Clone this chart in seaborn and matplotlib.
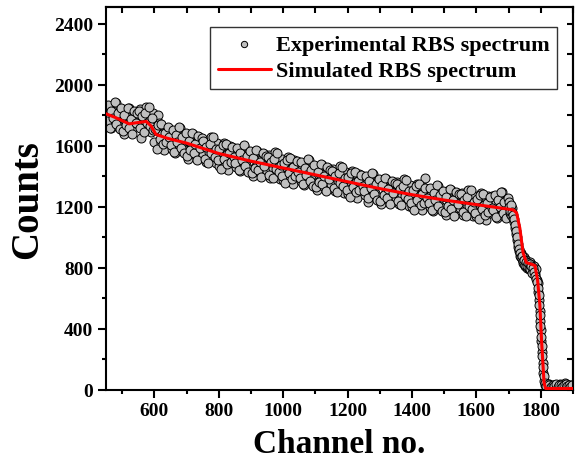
import numpy as np
import pandas as pd
import matplotlib
matplotlib.use("Agg")
import matplotlib.pyplot as plt
import seaborn as sns
from matplotlib.ticker import MultipleLocator

# ---------------- data ----------------
# Experimental RBS spectrum, channels 450..1695 in steps of 5
exp_a_start = 450
exp_step = 5
exp_a_counts = [
    1863, 1748, 1828, 1715, 1840, 1775, 1880, 1747, 1797, 1722,
    1810, 1680, 1835, 1745, 1845, 1710, 1785, 1725, 1825, 1755,
    1740, 1840, 1650, 1805, 1760, 1855, 1720, 1790, 1690, 1815,
    1625, 1705, 1800, 1750, 1620, 1675, 1575, 1720, 1640, 1700,
    1695, 1580, 1660, 1555, 1680, 1615, 1720, 1595, 1645, 1570,
    1645, 1515, 1670, 1580, 1680, 1545, 1620, 1560, 1660, 1590,
    1540, 1640, 1495, 1605, 1560, 1660, 1520, 1590, 1485, 1620,
    1470, 1570, 1505, 1620, 1490, 1545, 1445, 1600, 1520, 1585,
    1575, 1460, 1540, 1435, 1560, 1495, 1600, 1475, 1525, 1450,
    1530, 1400, 1555, 1465, 1565, 1430, 1505, 1445, 1545, 1475,
    1437, 1537, 1392, 1502, 1457, 1557, 1417, 1487, 1382, 1517,
    1375, 1475, 1410, 1525, 1395, 1450, 1350, 1505, 1425, 1490,
    1482, 1367, 1447, 1342, 1467, 1402, 1507, 1382, 1432, 1357,
    1440, 1310, 1465, 1375, 1475, 1340, 1415, 1355, 1455, 1385,
    1348, 1448, 1303, 1413, 1368, 1468, 1328, 1398, 1293, 1428,
    1285, 1385, 1320, 1435, 1305, 1360, 1260, 1415, 1335, 1400,
    1392, 1277, 1357, 1232, 1377, 1312, 1417, 1292, 1342, 1267,
    1351, 1221, 1376, 1286, 1386, 1251, 1326, 1266, 1366, 1296,
    1261, 1361, 1216, 1326, 1281, 1381, 1241, 1311, 1206, 1341,
    1202, 1302, 1237, 1352, 1222, 1277, 1177, 1332, 1390, 1317,
    1315, 1200, 1280, 1175, 1300, 1235, 1340, 1215, 1265, 1190,
    1278, 1148, 1303, 1213, 1313, 1178, 1253, 1193, 1293, 1223,
    1193, 1293, 1148, 1258, 1213, 1313, 1173, 1243, 1138, 1273,
    1140, 1240, 1175, 1290, 1160, 1215, 1115, 1270, 1190, 1255,
    1270, 1155, 1235, 1130, 1255, 1190, 1295, 1170, 1220, 1145,
]
# Experimental RBS spectrum, channels 452..1697 in steps of 5
exp_b_start = 452
exp_b_counts = [
    1765, 1865, 1720, 1830, 1785, 1885, 1745, 1815, 1710, 1845,
    1700, 1800, 1735, 1850, 1720, 1775, 1675, 1830, 1750, 1815,
    1830, 1715, 1795, 1690, 1815, 1750, 1855, 1730, 1780, 1705,
    1710, 1580, 1735, 1645, 1745, 1610, 1685, 1625, 1725, 1655,
    1605, 1705, 1560, 1670, 1625, 1725, 1585, 1655, 1550, 1685,
    1535, 1635, 1570, 1685, 1555, 1610, 1510, 1665, 1585, 1650,
    1630, 1515, 1595, 1490, 1615, 1550, 1655, 1530, 1580, 1505,
    1580, 1450, 1605, 1515, 1615, 1480, 1555, 1495, 1595, 1525,
    1485, 1585, 1440, 1550, 1505, 1605, 1465, 1535, 1430, 1565,
    1420, 1520, 1455, 1570, 1440, 1495, 1395, 1550, 1470, 1535,
    1527, 1412, 1492, 1387, 1512, 1447, 1552, 1427, 1477, 1402,
    1485, 1355, 1510, 1420, 1520, 1385, 1460, 1400, 1500, 1430,
    1392, 1492, 1347, 1457, 1412, 1512, 1372, 1442, 1337, 1472,
    1330, 1430, 1365, 1480, 1350, 1405, 1305, 1460, 1380, 1445,
    1438, 1323, 1403, 1298, 1423, 1358, 1463, 1338, 1388, 1313,
    1395, 1265, 1420, 1330, 1430, 1295, 1370, 1310, 1410, 1340,
    1302, 1402, 1257, 1367, 1322, 1422, 1282, 1352, 1247, 1382,
    1241, 1341, 1276, 1391, 1261, 1316, 1216, 1371, 1291, 1356,
    1351, 1236, 1316, 1211, 1336, 1271, 1376, 1251, 1301, 1226,
    1312, 1182, 1337, 1247, 1347, 1212, 1287, 1227, 1327, 1257,
    1225, 1325, 1180, 1290, 1245, 1345, 1205, 1275, 1170, 1305,
    1168, 1268, 1203, 1318, 1188, 1243, 1143, 1298, 1218, 1283,
    1283, 1168, 1248, 1143, 1268, 1203, 1308, 1183, 1233, 1158,
    1250, 1120, 1275, 1185, 1285, 1150, 1225, 1165, 1265, 1195,
    1180, 1280, 1135, 1245, 1200, 1300, 1160, 1230, 1125, 1260,
]
# Experimental points on the edges and the tail
exp_edge_channels = [
    1700, 1703, 1706, 1709, 1712, 1715, 1718, 1721, 1724, 1727,
    1730, 1733, 1736, 1739, 1742, 1745, 1748, 1751, 1754, 1757,
    1760, 1763, 1766, 1769, 1772, 1775, 1778, 1781, 1784, 1787,
    1790, 1792, 1794, 1796, 1798, 1800, 1802, 1804, 1806, 1808,
    1810, 1813, 1815, 1820, 1825, 1830, 1835, 1840, 1845, 1850,
    1855, 1860, 1865, 1870, 1875, 1880, 1885, 1890, 1895, 1900,
    1702, 1705, 1708, 1711, 1714, 1717, 1720, 1723, 1726, 1729,
    1732, 1735, 1738, 1741, 1744, 1747, 1750, 1753, 1756, 1759,
    1762, 1765, 1768, 1771, 1774, 1777, 1780, 1783, 1786, 1789,
    1791, 1793, 1795, 1797, 1799, 1801, 1803, 1805, 1807, 1809,
    1812, 1817, 1822, 1827, 1832, 1837, 1842, 1847, 1852, 1857,
    1862, 1867, 1872, 1877, 1882, 1887, 1892, 1897,
]
exp_edge_counts = [
    1230, 1160, 1200, 1150, 1190, 1130, 1100, 1060, 1020, 980,
    940, 910, 880, 900, 860, 830, 870, 810, 850, 800,
    830, 790, 840, 800, 820, 780, 810, 760, 790, 720,
    700, 640, 590, 520, 450, 390, 320, 250, 180, 110,
    60, 30, 35, 20, 40, 25, 15, 30, 20, 35,
    25, 40, 20, 30, 45, 25, 35, 20, 30, 25,
    1200, 1175, 1215, 1165, 1150, 1120, 1080, 1040, 1000, 960,
    925, 895, 870, 880, 845, 855, 820, 840, 815, 835,
    800, 825, 790, 815, 770, 800, 775, 745, 730, 710,
    670, 620, 560, 490, 420, 350, 290, 220, 150, 90,
    45, 25, 40, 30, 20, 35, 25, 40, 20, 30,
    35, 20, 30, 40, 25, 30, 20, 35,
]

# Simulated RBS spectrum (vertices of the red curve)
sim_channels = [450, 480, 522, 540, 575, 590, 605, 640, 700, 800, 900, 1000,
                1100, 1200, 1300, 1400, 1500, 1600, 1700, 1715, 1725, 1735,
                1745, 1755, 1770, 1782, 1790, 1797, 1803, 1810, 1815, 1900]
sim_counts = [1810, 1785, 1744, 1750, 1760, 1730, 1675, 1650, 1618, 1550, 1500, 1455,
              1410, 1365, 1320, 1280, 1245, 1215, 1185, 1180, 1160, 1060,
              900, 835, 825, 815, 720, 560, 300, 50, 10, 10]

x_major_ticks = [600, 800, 1000, 1200, 1400, 1600, 1800]
y_major_ticks = [0, 400, 800, 1200, 1600, 2000, 2400]

# ---------------- build frames ----------------
exp_channels = ([exp_a_start + exp_step * i for i in range(len(exp_a_counts))]
                + [exp_b_start + exp_step * i for i in range(len(exp_b_counts))]
                + exp_edge_channels)
exp_counts = exp_a_counts + exp_b_counts + exp_edge_counts
df_exp = pd.DataFrame({"Channel": exp_channels, "Counts": exp_counts})
df_sim = pd.DataFrame({"Channel": sim_channels, "Counts": sim_counts})

# ---------------- style ----------------
sns.set_style("ticks")
plt.rcParams["font.family"] = ["Liberation Serif", "DejaVu Serif"]
plt.rcParams["font.weight"] = "bold"
plt.rcParams["axes.linewidth"] = 1.5
for k in ["text.color", "axes.labelcolor", "xtick.color", "ytick.color", "axes.edgecolor"]:
    plt.rcParams[k] = "black"

fig = plt.figure(figsize=(5.82, 4.64), dpi=100)
ax = fig.add_axes([106 / 582, 1 - 391 / 464, 467 / 582, 383 / 464])

sns.scatterplot(data=df_exp, x="Channel", y="Counts", ax=ax, s=42,
                color="#c0c0c0", edgecolor="black", linewidth=0.7,
                label="Experimental RBS spectrum", zorder=2)
sns.lineplot(data=df_sim, x="Channel", y="Counts", ax=ax, sort=False,
             estimator=None, color="#ff0000", linewidth=2.2,
             label="Simulated RBS spectrum", zorder=3)

ax.set_xlim(450, 1900)
ax.set_ylim(0, 2510)
ax.set_xticks(x_major_ticks)
ax.set_yticks(y_major_ticks)
ax.xaxis.set_minor_locator(MultipleLocator(100))
ax.yaxis.set_minor_locator(MultipleLocator(200))
ax.tick_params(which="major", direction="out", length=6, width=1.5,
               labelsize=14, pad=3, colors="black")
ax.tick_params(which="minor", direction="out", length=3, width=1.5, colors="black")
for lbl in ax.get_xticklabels() + ax.get_yticklabels():
    lbl.set_fontweight("bold")

for sp in ax.spines.values():
    sp.set_visible(True)
    sp.set_linewidth(1.5)
    sp.set_color("black")

# mirrored inward ticks on top and right
top = ax.secondary_xaxis("top")
top.set_xticks(x_major_ticks)
top.xaxis.set_minor_locator(MultipleLocator(100))
top.tick_params(which="both", direction="in", length=4, width=1.5, labeltop=False)
right = ax.secondary_yaxis("right")
right.set_yticks(y_major_ticks)
right.yaxis.set_minor_locator(MultipleLocator(200))
right.tick_params(which="both", direction="in", length=4, width=1.5, labelright=False)

ax.set_xlabel("Channel no.", fontsize=24, fontweight="bold", labelpad=6, color="black")
ax.set_ylabel("Counts", fontsize=28, fontweight="bold", labelpad=6, color="black")

leg = ax.legend(loc="upper right", bbox_to_anchor=(0.966, 0.948),
                borderaxespad=0, frameon=True, fancybox=False,
                prop={"family": "Liberation Serif", "weight": "bold", "size": 16},
                handlelength=2.4, handletextpad=0.2, labelspacing=0.25,
                borderpad=0.35, markerscale=0.7)
leg.get_frame().set_edgecolor("black")
leg.get_frame().set_linewidth(1.0)
for t in leg.get_texts():
    t.set_color("black")

fig.savefig("out.png", dpi=100)
